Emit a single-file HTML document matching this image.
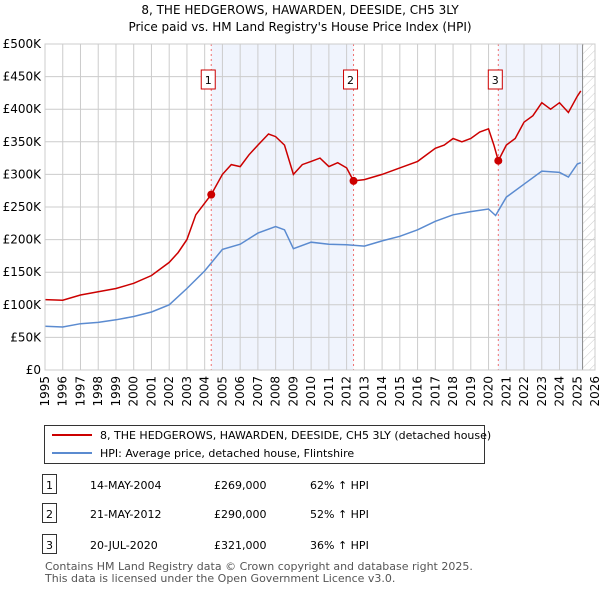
<!DOCTYPE html>
<html><head><meta charset="utf-8"><style>
body{margin:0;background:#fff;font-family:"Liberation Sans","DejaVu Sans",sans-serif;}
#wrap{position:relative;width:600px;height:590px;}
svg text{font-family:"DejaVu Sans","Liberation Sans",sans-serif;}
</style></head><body><div id="wrap">
<svg id="c" width="600" height="590">
<text x="300" y="14" text-anchor="middle" font-size="12">8, THE HEDGEROWS, HAWARDEN, DEESIDE, CH5 3LY</text>
<text x="300" y="31" text-anchor="middle" font-size="12">Price paid vs. HM Land Registry's House Price Index (HPI)</text>
</svg></div>
<script>
const redYears=[1995,1996,1997,1998,1999,2000,2001,2002,2002.5,2003,2003.5,2004.37,2005,2005.5,2006,2006.5,2007,2007.6,2008,2008.5,2009,2009.5,2010,2010.5,2011,2011.5,2012,2012.39,2013,2014,2015,2016,2017,2017.5,2018,2018.5,2019,2019.5,2020,2020.3,2020.55,2021,2021.5,2022,2022.5,2023,2023.5,2024,2024.5,2025,2025.2];
const redValues=[108,107,115,120,125,133,145,165,180,200,238,269,300,315,312,330,345,362,358,345,300,315,320,325,312,318,310,290,292,300,310,320,340,345,355,350,355,365,370,345,321,345,355,380,390,410,400,410,395,420,428];
const blueYears=[1995,1996,1997,1998,1999,2000,2001,2002,2003,2004,2005,2006,2007,2008,2008.5,2009,2010,2011,2012,2013,2014,2015,2016,2017,2018,2019,2020,2020.4,2021,2022,2023,2024,2024.5,2025,2025.2];
const blueValues=[67,66,71,73,77,82,89,100,125,152,185,193,210,220,215,186,196,193,192,190,198,205,215,228,238,243,247,237,265,285,305,303,296,316,318];
const saleYears=[2004.37,2012.39,2020.55];
const saleValues=[269,290,321];
const saleLabels=["1","2","3"];
const yTicks=[0,50,100,150,200,250,300,350,400,450,500];
const yTickLabels=["£0","£50K","£100K","£150K","£200K","£250K","£300K","£350K","£400K","£450K","£500K"];
const xTicks=[1995,1996,1997,1998,1999,2000,2001,2002,2003,2004,2005,2006,2007,2008,2009,2010,2011,2012,2013,2014,2015,2016,2017,2018,2019,2020,2021,2022,2023,2024,2025,2026];
const L=45,R=595,T=44,B=370;
const X=y=>L+(y-1995)/31*(R-L);
const Y=v=>B-v/500*(B-T);
const svg=document.getElementById('c');const NS='http://www.w3.org/2000/svg';
function mk(t,a,p){const e=document.createElementNS(NS,t);for(const k in a)e.setAttribute(k,a[k]);(p||svg).appendChild(e);return e;}
const defs=mk('defs',{});
const pat=mk('pattern',{id:'h',width:6,height:6,patternUnits:'userSpaceOnUse',patternTransform:'rotate(45)'},defs);
mk('line',{x1:0,y1:0,x2:0,y2:6,stroke:'#ccc','stroke-width':1},pat);
let s=mk('rect',{x:X(saleYears[0]),y:T,width:X(saleYears[1])-X(saleYears[0]),height:B-T,fill:'#f0f4fd'});


s=mk('rect',{x:X(saleYears[2]),y:T,width:X(2025.3)-X(saleYears[2]),height:B-T,fill:'#f0f4fd'});


s=mk('rect',{x:X(2025.3),y:T,width:R-X(2025.3),height:B-T,fill:'url(#h)'});


yTicks.forEach((v,i)=>{
 const g=mk('line',{x1:L,x2:R,y1:Y(v),y2:Y(v),stroke:'#ccc','stroke-width':1});
 
 
 const t=mk('text',{x:L-4,y:Y(v)+4,'text-anchor':'end','font-size':12});t.textContent=yTickLabels[i];
 
 
});
xTicks.forEach(y=>{
 const g=mk('line',{x1:X(y),x2:X(y),y1:T,y2:B,stroke:'#ccc','stroke-width':1});
 
 
 const t=mk('text',{x:0,y:0,'text-anchor':'end','font-size':12,transform:`translate(${X(y)+4},${B+6}) rotate(-90)`});t.textContent=y;
 
 
});
const ln=mk('line',{x1:X(2025.3),x2:X(2025.3),y1:T,y2:B,stroke:'#888','stroke-width':1});


saleYears.forEach((y,i)=>{
 const l=mk('line',{x1:X(y),x2:X(y),y1:T,y2:B,stroke:'#f07070','stroke-width':1,'stroke-dasharray':'2,3'});
 
 
 const r=mk('rect',{x:X(y)-10,y:70,width:14,height:19,fill:'#fff',stroke:'#c00'});
 
 
 const t=mk('text',{x:X(y)-3,y:84,'text-anchor':'middle','font-size':11});t.textContent=saleLabels[i];
 
 
});
function path(xs,vs){return xs.map((x,i)=>(i?'L':'M')+X(x).toFixed(1)+','+Y(vs[i]).toFixed(1)).join('');}
let p=mk('path',{d:path(blueYears,blueValues),fill:'none',stroke:'#5b8bd0','stroke-width':1.5});


p=mk('path',{d:path(redYears,redValues),fill:'none',stroke:'#cc0000','stroke-width':1.5});


saleYears.forEach((y,i)=>{
 const c=mk('circle',{cx:X(y),cy:Y(saleValues[i]),r:4,fill:'#cc0000'});
 
 
});
const fr=mk('rect',{x:L,y:T,width:R-L,height:B-T,fill:'none',stroke:'#ccc'});


const lg=mk('g',{});


mk('rect',{x:44.5,y:425.5,width:440,height:38,fill:'#fff',stroke:'#333'},lg);
mk('line',{x1:52,x2:92,y1:435,y2:435,stroke:'#cc0000','stroke-width':2},lg);
let t=mk('text',{x:100,y:439,'font-size':11},lg);t.textContent='8, THE HEDGEROWS, HAWARDEN, DEESIDE, CH5 3LY (detached house)';
mk('line',{x1:52,x2:92,y1:453,y2:453,stroke:'#5b8bd0','stroke-width':2},lg);
t=mk('text',{x:100,y:457,'font-size':11},lg);t.textContent='HPI: Average price, detached house, Flintshire';
const rows=[["1","14-MAY-2004","£269,000","62% ↑ HPI",485],["2","21-MAY-2012","£290,000","52% ↑ HPI",514],["3","20-JUL-2020","£321,000","36% ↑ HPI",545]];
rows.forEach(r=>{
 const g=mk('g',{});
 
 
 mk('rect',{x:42.5,y:r[4]-10.5,width:14,height:19,fill:'#fff',stroke:'#333'},g);
 let a=mk('text',{x:49.5,y:r[4]+4,'text-anchor':'middle','font-size':11},g);a.textContent=r[0];
 a=mk('text',{x:90,y:r[4]+4,'font-size':11},g);a.textContent=r[1];
 a=mk('text',{x:214,y:r[4]+4,'font-size':11},g);a.textContent=r[2];
 a=mk('text',{x:310,y:r[4]+4,'font-size':11},g);a.textContent=r[3];
});
t=mk('text',{x:45,y:570,'font-size':11,fill:'#555'});t.textContent='Contains HM Land Registry data © Crown copyright and database right 2025.';


t=mk('text',{x:45,y:582,'font-size':11,fill:'#555'});t.textContent='This data is licensed under the Open Government Licence v3.0.';


</script></body></html>
